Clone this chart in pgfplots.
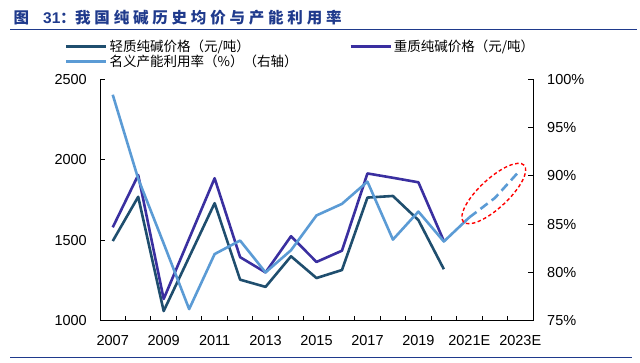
\documentclass[border=0pt]{standalone}
\usepackage{pgfplots}
\pgfplotsset{compat=1.18}
\usepackage{fontspec}
\setmainfont{Liberation Sans}
\newfontfamily\cjk{Noto Sans CJK SC}
\newfontfamily\cjkt{Noto Sans CJK SC}[LetterSpace=24.5]
\definecolor{cLight}{HTML}{1F4E6E}
\definecolor{cHeavy}{HTML}{3A2FA0}
\definecolor{cUtil}{HTML}{5B9BD5}
\definecolor{cTitle}{HTML}{1F3A8C}
\begin{document}
\begin{tikzpicture}
\path[use as bounding box] (0,0) rectangle (640pt,363pt);
\begin{scope}[every node/.style={anchor=base west, inner sep=0pt, text=cTitle, font=\fontsize{15.5}{18}\selectfont\bfseries}]
\node at (13.3pt,339pt) {\cjk 图};
\node at (43pt,339pt) {31};
\node at (60pt,339pt) {\cjk ：};
\node at (75pt,339pt) {\cjkt 我国纯碱历史均价与产能利用率};
\end{scope}
\draw[cTitle, line width=1.8pt] (10pt,333.5pt) -- (637pt,333.5pt);
\draw[cTitle, line width=1.8pt] (10pt,5.5pt) -- (632pt,5.5pt);
\pgfplotsset{
  common/.style={
    at={(100pt,42.3pt)}, anchor=south west,
    scale only axis, width=433pt, height=241.4pt,
    xmin=-0.5, xmax=16.5,
    axis line style={-, line width=1pt, black},
    tick align=inside, major tick length=5pt,
    tick style={black, line width=1pt},
    /pgf/number format/assume math mode=true,
    ticklabel style={font=\fontsize{14.5}{16}\selectfont, inner sep=0pt},
    no markers, clip=false,
    legend cell align=left,
    legend image code/.code={\draw[##1] (0pt,0pt) -- (40pt,0pt);},
    legend style={anchor=north west, draw=none, fill=none, inner sep=0pt, outer sep=0pt,
      row sep=0pt, column sep=2pt, font=\cjk\fontsize{13.5}{15}\selectfont,
      nodes={inner sep=0pt, text height=12.75pt, text depth=2.55pt}},
  }
}
\begin{axis}[common,
  ymin=1000, ymax=2500,
  axis x line*=bottom, axis y line*=left,
  xtick={0.5,1.5,...,15.5}, xticklabels={},
  extra x ticks={0,2,...,16},
  extra x tick labels={2007,2009,2011,2013,2015,2017,2019,2021E,2023E},
  extra x tick style={major tick length=0pt},
  xticklabel style={anchor=north, yshift=-14pt},
  ytick={1000,1500,2000,2500},
  yticklabels={1000,1500,2000,2500},
  yticklabel style={anchor=east, xshift=-13pt},
  legend style={at={(-0.0808,1.1687)}},
]
\addplot[cLight, line width=2.6pt, line join=round] coordinates {
(0,1495) (1,1770) (2,1060) (3,1395) (4,1730) (5,1255) (6,1210) (7,1400)
(8,1265) (9,1315) (10,1765) (11,1775) (12,1625) (13,1320)};
\addlegendentry{轻质纯碱价格（元/吨）}
\addplot[cHeavy, line width=2.6pt, line join=round, forget plot] coordinates {
(0,1580) (1,1905) (2,1135) (3,1510) (4,1885) (5,1395) (6,1300) (7,1525)
(8,1365) (9,1435) (10,1915) (11,1888) (12,1860) (13,1495)};
\addlegendimage{cUtil, line width=2.6pt}
\addlegendentry{名义产能利用率（\%）（右轴）}
\end{axis}
\begin{axis}[common,
  ymin=75, ymax=100,
  axis x line=none, axis y line*=right,
  ytick={75,80,85,90,95,100},
  yticklabels={75\%,80\%,85\%,90\%,95\%,100\%},
  yticklabel style={anchor=west, xshift=14pt},
  legend style={at={(0.5757,1.1687)}},
]
\addplot[cUtil, line width=2.6pt, line join=round, forget plot] coordinates {
(0,98.4) (1,89.7) (2,83.0) (3,76.2) (4,81.9) (5,83.3) (6,80.0) (7,82.3)
(8,85.9) (9,87.1) (10,89.4) (11,83.4) (12,86.3) (13,83.2) (14,85.7)};
\addplot[cUtil, line width=2.6pt, line join=round, dash pattern=on 9pt off 5pt, forget plot] coordinates {
(14,85.7) (15,87.7) (16,90.6)};
\addlegendimage{cHeavy, line width=2.6pt}
\addlegendentry{重质纯碱价格（元/吨）}
\draw[red, line width=1.4pt, dash pattern=on 3.5pt off 2.5pt, rotate around={43:(axis cs:14.96,88.17)}]
  (axis cs:14.96,88.17) ellipse [x radius=41.5pt, y radius=14.5pt];
\end{axis}
\end{tikzpicture}
\end{document}
